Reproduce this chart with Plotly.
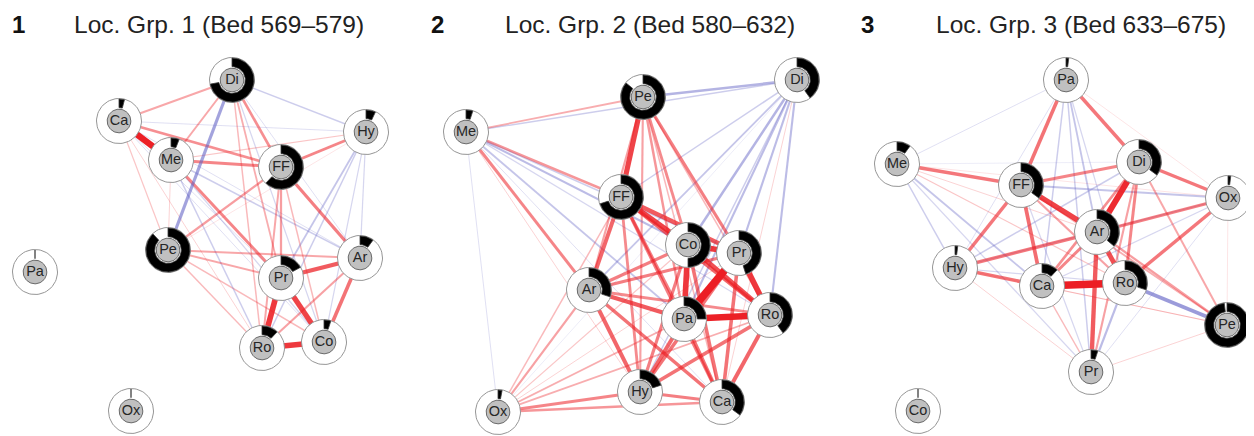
import numpy as np
import plotly.graph_objects as go

# ---------------- data ----------------
panel_numbers = ["1", "2", "3"]
panel_titles = ["Loc. Grp. 1 (Bed 569–579)", "Loc. Grp. 2 (Bed 580–632)", "Loc. Grp. 3 (Bed 633–675)"]

# node layout (network layout coordinates) and ring fractions
p1_nodes = ["Di", "Ca", "Me", "Hy", "FF", "Pe", "Pa", "Pr", "Ar", "Ro", "Co", "Ox"]
p1_x = [232, 119, 171, 366, 281, 168, 35, 281, 360, 262, 324, 131]
p1_y = [80, 121, 160, 132, 167, 250, 272, 278, 258, 348, 342, 411]
p1_frac = [0.72, 0.04, 0.06, 0.07, 0.62, 0.88, 0.0, 0.17, 0.10, 0.12, 0.05, 0.0]
p1_edges = [
    ("Ca", "Me", 0.85), ("Pr", "Ro", 0.75), ("Pr", "Co", 0.7), ("Ro", "Co", 0.75),
    ("Pr", "Ar", 0.6), ("Ar", "Co", 0.5), ("FF", "Ar", 0.45), ("FF", "Hy", 0.42),
    ("Me", "FF", 0.42), ("Ca", "FF", 0.38), ("Me", "Pr", 0.42), ("Di", "FF", 0.38),
    ("Di", "Pe", -0.45), ("Di", "Ca", 0.28), ("Di", "Me", 0.28), ("Pe", "FF", 0.32),
    ("Pe", "Ar", 0.28), ("Pe", "Pr", 0.28), ("Pe", "Ro", 0.2), ("Pe", "Co", 0.2),
    ("Di", "Hy", -0.2), ("Di", "Pr", 0.25), ("Di", "Ro", 0.2), ("Di", "Co", -0.15),
    ("FF", "Pr", 0.32), ("FF", "Ro", 0.28), ("FF", "Co", 0.2), ("Hy", "Pr", -0.25),
    ("Hy", "Ro", -0.2), ("Hy", "Co", -0.15), ("Hy", "Ar", -0.15), ("Hy", "Ca", -0.1),
    ("Hy", "Me", 0.15), ("Me", "Ar", -0.2), ("Me", "Ro", -0.2), ("Me", "Co", -0.15),
    ("Ca", "Pe", 0.15), ("Ca", "Ro", 0.1), ("Ca", "Co", -0.1), ("Ca", "Pr", -0.1),
    ("Ca", "Ar", -0.1), ("Me", "Pe", 0.1), ("Pe", "Hy", 0.05), ("Ar", "Ro", 0.3),
    ("Di", "Ar", -0.1),
]

p2_nodes = ["Pe", "Di", "Me", "FF", "Co", "Pr", "Ar", "Pa", "Ro", "Hy", "Ca", "Ox"]
p2_x = [643, 797, 466, 621, 688, 739, 589, 684, 770, 640, 722, 498]
p2_y = [97, 80, 132, 197, 245, 253, 290, 319, 315, 392, 402, 412]
p2_frac = [0.86, 0.40, 0.05, 0.70, 0.50, 0.45, 0.30, 0.25, 0.40, 0.20, 0.35, 0.03]
p2_edges = [
    ("Pe", "FF", 0.7), ("Pe", "Co", 0.4), ("Pe", "Pr", 0.45), ("Pe", "Pa", 0.35),
    ("Pe", "Ar", 0.3), ("Pe", "Hy", 0.3), ("Pe", "Ro", 0.2), ("Pe", "Ca", 0.2),
    ("Pe", "Di", -0.35), ("Me", "Pe", 0.25), ("Me", "Di", -0.2), ("Di", "FF", -0.2),
    ("Di", "Co", -0.35), ("Di", "Pr", -0.3), ("Di", "Ar", -0.25), ("Di", "Pa", -0.3),
    ("Di", "Ro", -0.3), ("Di", "Hy", -0.2), ("Di", "Ca", 0.1), ("Di", "Ox", -0.05),
    ("Me", "FF", 0.35), ("Me", "Ar", 0.42), ("Me", "Co", -0.3), ("Me", "Pa", -0.25),
    ("Me", "Pr", -0.2), ("Me", "Ro", -0.15), ("Me", "Ox", -0.1), ("Me", "Hy", 0.1),
    ("Me", "Ca", -0.1), ("FF", "Co", 0.7), ("FF", "Pr", 0.6), ("FF", "Ro", 0.55),
    ("FF", "Ar", 0.55), ("FF", "Pa", 0.45), ("FF", "Hy", 0.4), ("FF", "Ca", 0.45),
    ("FF", "Ox", 0.2), ("Co", "Pr", 0.75), ("Co", "Ro", 0.65), ("Co", "Pa", 0.75),
    ("Co", "Ar", 0.45), ("Co", "Hy", 0.45), ("Co", "Ca", 0.5), ("Co", "Ox", 0.15),
    ("Pr", "Pa", 0.95), ("Pr", "Ro", 0.75), ("Pr", "Ar", 0.45), ("Pr", "Hy", 0.5),
    ("Pr", "Ca", 0.5), ("Pr", "Ox", 0.1), ("Ar", "Pa", 0.6), ("Ar", "Ro", 0.4),
    ("Ar", "Hy", 0.55), ("Ar", "Ca", 0.5), ("Ar", "Ox", 0.3), ("Pa", "Ro", 0.85),
    ("Pa", "Hy", 0.55), ("Pa", "Ca", 0.5), ("Pa", "Ox", 0.25), ("Ro", "Hy", 0.5),
    ("Ro", "Ca", 0.55), ("Ro", "Ox", 0.25), ("Hy", "Ca", 0.45), ("Hy", "Ox", 0.42),
    ("Ca", "Ox", 0.35),
]

p3_nodes = ["Pa", "Me", "Di", "FF", "Ox", "Ar", "Hy", "Ca", "Ro", "Pe", "Pr", "Co"]
p3_x = [1066, 897, 1139, 1021, 1228, 1097, 955, 1042, 1125, 1227, 1091, 918]
p3_y = [80, 164, 162, 185, 198, 232, 268, 286, 283, 325, 372, 411]
p3_frac = [0.02, 0.10, 0.35, 0.35, 0.02, 0.36, 0.02, 0.12, 0.30, 0.98, 0.05, 0.0]
p3_edges = [
    ("Ca", "Ro", 0.95), ("Di", "Ar", 0.8), ("FF", "Ar", 0.7), ("Ar", "Ro", 0.65),
    ("Ar", "Pr", 0.6), ("Pa", "FF", 0.5), ("Pa", "Di", 0.48), ("Me", "FF", 0.48),
    ("FF", "Di", 0.42), ("Di", "Ox", 0.48), ("FF", "Ca", 0.52), ("FF", "Hy", 0.48),
    ("Hy", "Ar", 0.48), ("Hy", "Ca", 0.5), ("Ar", "Ox", 0.45), ("Ro", "Ox", 0.48),
    ("Ar", "Ca", 0.42), ("Di", "Ro", 0.42), ("Di", "Ca", 0.38), ("Ro", "Pe", -0.5),
    ("Ar", "Pe", 0.32), ("Di", "Pe", 0.28), ("FF", "Pe", 0.25), ("FF", "Ro", 0.3),
    ("FF", "Ox", -0.25), ("Pa", "Ar", -0.25), ("Pa", "Ca", -0.2), ("Pa", "Ro", -0.15),
    ("Pa", "Pr", -0.2), ("Pa", "Hy", -0.1), ("Pa", "Me", -0.1), ("Pa", "Ox", 0.05),
    ("Me", "Hy", -0.2), ("Me", "Ca", -0.25), ("Me", "Pr", -0.15), ("Me", "Ar", 0.1),
    ("Me", "Ro", 0.15), ("Me", "Di", -0.05), ("Hy", "Di", -0.2), ("Hy", "Ox", -0.15),
    ("Hy", "Pr", 0.1), ("Hy", "Ro", -0.15), ("Ca", "Pr", 0.2), ("Ca", "Ox", -0.15),
    ("Ca", "Pe", 0.15), ("Ro", "Pr", -0.3), ("Di", "Pr", 0.3), ("Ox", "Pe", 0.05),
    ("Ox", "Pr", -0.1), ("Pr", "Pe", 0.1), ("FF", "Pr", -0.15), ("Hy", "Pe", 0.05),
    ("Me", "Ox", 0.05),
]

panels = [
    (p1_nodes, p1_x, p1_y, p1_frac, p1_edges),
    (p2_nodes, p2_x, p2_y, p2_frac, p2_edges),
    (p3_nodes, p3_x, p3_y, p3_frac, p3_edges),
]

# ---------------- styling ----------------
W, H = 1254, 436
PAGE_OFF = 8  # default page margin of the html body
R_OUT, R_ARC_IN, R_IN = 22.5, 13.3, 11.8
FONT = "Liberation Sans, Arial, Helvetica, sans-serif"
title_x = [219, 650, 1081]
number_x = [18, 437, 867]
title_y = 24


def edge_style(w):
    a = abs(w)
    alpha = min(1.0, 0.1 + 1.05 * a)
    width = 0.6 + 7.3 * a ** 1.3
    if w >= 0:
        col = f"rgba(236,30,36,{alpha:.3f})"
    else:
        col = f"rgba(95,95,195,{alpha:.3f})"
    return col, width


def circle_pts(cx, cy, r, n=72):
    t = np.linspace(0, 2 * np.pi, n + 1)
    return list(cx + r * np.cos(t)), list(cy - r * np.sin(t))


def arc_pts(cx, cy, r1, r2, frac, n=72):
    m = max(2, int(n * frac) + 2)
    th = np.pi / 2 - 2 * np.pi * frac * np.linspace(0, 1, m)
    xo = cx + r2 * np.cos(th)
    yo = cy - r2 * np.sin(th)
    xi = cx + r1 * np.cos(th[::-1])
    yi = cy - r1 * np.sin(th[::-1])
    xs = list(xo) + list(xi) + [xo[0]]
    ys = list(yo) + list(yi) + [yo[0]]
    return xs, ys


fig = go.Figure()

for nodes, xs, ys, fr, edges in panels:
    pos = {n: (x, y) for n, x, y in zip(nodes, xs, ys)}
    # edges, weakest first
    for a, b, w in sorted(edges, key=lambda e: abs(e[2])):
        col, width = edge_style(w)
        fig.add_trace(go.Scatter(
            x=[pos[a][0], pos[b][0]], y=[pos[a][1], pos[b][1]],
            mode="lines", line=dict(color=col, width=width),
            hoverinfo="skip", showlegend=False))

    # white outer discs
    wx, wy = [], []
    for x, y in zip(xs, ys):
        cx_, cy_ = circle_pts(x, y, R_OUT)
        wx += cx_ + [None]
        wy += cy_ + [None]
    fig.add_trace(go.Scatter(x=wx, y=wy, mode="lines", fill="toself",
                             fillcolor="white", line=dict(color="rgb(150,150,150)", width=1),
                             hoverinfo="skip", showlegend=False))
    # black arcs
    ax, ay = [], []
    for x, y, f in zip(xs, ys, fr):
        px, py = arc_pts(x, y, R_ARC_IN, R_OUT - 0.5, f)
        ax += px + [None]
        ay += py + [None]
    fig.add_trace(go.Scatter(x=ax, y=ay, mode="lines", fill="toself",
                             fillcolor="black", line=dict(color="rgb(60,60,60)", width=0.8),
                             hoverinfo="skip", showlegend=False))
    # grey inner circles
    gx, gy = [], []
    for x, y in zip(xs, ys):
        cx_, cy_ = circle_pts(x, y, R_IN)
        gx += cx_ + [None]
        gy += cy_ + [None]
    fig.add_trace(go.Scatter(x=gx, y=gy, mode="lines", fill="toself",
                             fillcolor="rgb(192,192,192)", line=dict(color="rgb(105,105,105)", width=1),
                             hoverinfo="skip", showlegend=False))
    # labels
    fig.add_trace(go.Scatter(x=xs, y=ys, mode="text", text=nodes,
                             textposition="middle center",
                             textfont=dict(family=FONT, size=14.5, color="#262626"),
                             hoverinfo="skip", showlegend=False))

for i in range(3):
    fig.add_annotation(x=number_x[i], y=title_y, xref="x", yref="y", text=f"<b>{panel_numbers[i]}</b>",
                       showarrow=False, font=dict(family=FONT, size=24, color="#111"))
    fig.add_annotation(x=title_x[i], y=title_y, xref="x", yref="y", text=panel_titles[i],
                       showarrow=False, font=dict(family=FONT, size=24.5, color="#222"))

fig.update_layout(
    width=W - PAGE_OFF, height=H - PAGE_OFF, margin=dict(l=0, r=0, t=0, b=0),
    paper_bgcolor="white", plot_bgcolor="white", showlegend=False,
    xaxis=dict(range=[PAGE_OFF, W], visible=False, fixedrange=True),
    yaxis=dict(range=[H, PAGE_OFF], visible=False, fixedrange=True),
)

fig.write_html("out.html")
